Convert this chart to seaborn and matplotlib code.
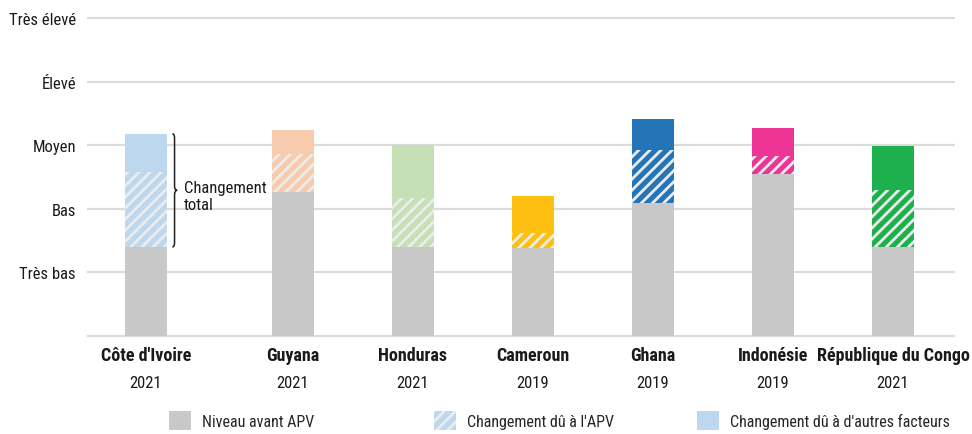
import numpy as np
import pandas as pd
import matplotlib
matplotlib.use('Agg')
import matplotlib.pyplot as plt
import matplotlib.transforms as mtransforms
from matplotlib.patches import Patch, PathPatch
from matplotlib.path import Path
import seaborn as sns

countries = ["Côte d'Ivoire", "Guyana", "Honduras", "Cameroun", "Ghana", "Indonésie", "République du Congo"]
years = ["2021", "2021", "2021", "2019", "2019", "2019", "2021"]
# levels: 1 = Très bas ... 5 = Très élevé
level_before = [1.40, 2.26, 1.40, 1.38, 2.09, 2.55, 1.40]
change_vpa = [1.18, 0.60, 0.77, 0.24, 0.83, 0.28, 0.90]
change_other = [0.60, 0.38, 0.83, 0.58, 0.49, 0.44, 0.69]
colors = ["#bdd7ee", "#f8cbad", "#c5e0b4", "#fdc010", "#2474b8", "#ec3595", "#1fb04e"]
level_labels = ["", "Très bas", "Bas", "Moyen", "Élevé", "Très élevé"]
legend_labels = ["Niveau avant APV", "Changement dû à l'APV", "Changement dû à d'autres facteurs"]

grey = "#c8c8c8"
stripe = "#ececec"
ink = "#1a1a1a"

sns.set_style("white")
plt.rcParams['font.family'] = ['Roboto Condensed', 'DejaVu Sans']
plt.rcParams['hatch.linewidth'] = 2.0

n = len(countries)
# first gap is wider to leave room for the brace annotation
pos = np.arange(n) + 0.225 * (np.arange(n) > 0)

df = pd.DataFrame({
    'pays': countries,
    'pos': pos,
    'avant': level_before,
    'apv': np.array(level_before) + np.array(change_vpa),
    'total': np.array(level_before) + np.array(change_vpa) + np.array(change_other),
})

fig = plt.figure(figsize=(9.72, 4.35), dpi=100)
ax = fig.add_axes([0.0895, 0.2179, 0.893, 0.7458])

kw = dict(x='pos', hue='pays', palette=colors, native_scale=True, dodge=False,
          legend=False, width=0.35, linewidth=0, saturation=1, ax=ax)
sns.barplot(data=df, y='total', **kw)
k0 = len(ax.patches)
sns.barplot(data=df, y='apv', **kw)
for p in ax.patches[k0:]:
    p.set_hatch('///')
    p.set_edgecolor(stripe)
    p.set_linewidth(0)
sns.barplot(data=df, y='avant', x='pos', color=grey, native_scale=True,
            width=0.35, linewidth=0, saturation=1, ax=ax)

ax.set_xlim(-0.4917, 6.742)
ax.set_ylim(-0.05, 5.05)
ax.set_yticks(range(6))
ax.set_yticklabels(level_labels, fontsize=12, color=ink)
ax.set_xticks(pos)
ax.set_xticklabels(countries, fontsize=13, fontweight='bold', color=ink)
ax.tick_params(axis='x', length=0, pad=5)
ax.tick_params(axis='y', length=0, pad=8)
ax.set_xlabel('')
ax.set_ylabel('')
ax.grid(axis='y', color='#dcdcdc', linewidth=1.6)
ax.grid(axis='x', visible=False)
ax.set_axisbelow(True)
sns.despine(ax=ax, left=True, bottom=True)

trans = mtransforms.blended_transform_factory(ax.transData, ax.transAxes)
for x, yr in zip(pos, years):
    ax.text(x, -0.132, yr, transform=trans, ha='center', va='center', fontsize=12, color=ink)

# brace for "Changement total" on the first bar
y0, y1 = df['avant'][0], df['total'][0]
ym = (y0 + y1) / 2
xa, xb, xc = pos[0] + 0.22, pos[0] + 0.238, pos[0] + 0.26
r = 0.07
verts = [(xa, y1), (xb, y1), (xb, y1 - r),
         (xb, ym + r), (xb, ym), (xc, ym),
         (xb, ym), (xb, ym - r), (xb, y0 + r),
         (xb, y0), (xa, y0)]
codes = [Path.MOVETO, Path.CURVE3, Path.CURVE3,
         Path.LINETO, Path.CURVE3, Path.CURVE3,
         Path.CURVE3, Path.CURVE3, Path.LINETO,
         Path.CURVE3, Path.CURVE3]
ax.add_patch(PathPatch(Path(verts, codes), facecolor='none', edgecolor='#222222', linewidth=1.1))
ax.text(pos[0] + 0.315, ym - 0.09, "Changement\ntotal", ha='left', va='center',
        fontsize=12, color=ink, linespacing=1.15)

handles = [
    Patch(facecolor=grey, linewidth=0),
    Patch(facecolor=colors[0], edgecolor=stripe, hatch='///', linewidth=0),
    Patch(facecolor=colors[0], linewidth=0),
]
for h, lab, xl in zip(handles, legend_labels, [169, 434, 697]):
    fig.legend(handles=[h], labels=[lab], loc='center left', bbox_to_anchor=(xl / 972, 0.031),
               frameon=False, fontsize=11.5, handlelength=1.4, handleheight=1.5,
               handletextpad=0.65, borderpad=0, borderaxespad=0)

fig.savefig('out.png', dpi=100)
